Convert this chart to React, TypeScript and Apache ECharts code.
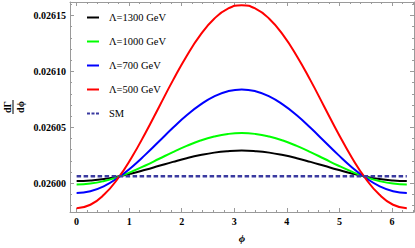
import React, { useEffect, useRef } from "react";
import * as echarts from "echarts";

const phi = [
  0, 0.2618, 0.5236, 0.7854, 1.0472, 1.309, 1.5708, 1.8326, 2.0944, 2.3562, 2.618, 2.8798, 3.1416,
  3.4034, 3.6652, 3.927, 4.1888, 4.4506, 4.7124, 4.9742, 5.236, 5.4978, 5.7596, 6.0214, 6.2832,
];

const lambda1300 = [
  0.026002, 0.0260025, 0.0260038, 0.026006, 0.0260088, 0.0260121, 0.0260156, 0.0260191, 0.0260224,
  0.0260252, 0.0260274, 0.0260287, 0.0260292, 0.0260287, 0.0260274, 0.0260252, 0.0260224, 0.0260191,
  0.0260156, 0.0260121, 0.0260088, 0.026006, 0.0260038, 0.0260025, 0.026002,
];

const lambda1000 = [
  0.0259989, 0.0259997, 0.026002, 0.0260056, 0.0260104, 0.0260159, 0.0260219, 0.0260279, 0.0260334,
  0.0260382, 0.0260418, 0.0260441, 0.0260449, 0.0260441, 0.0260418, 0.0260382, 0.0260334, 0.0260279,
  0.0260219, 0.0260159, 0.0260104, 0.0260056, 0.026002, 0.0259997, 0.0259989,
];

const lambda700 = [
  0.0259913, 0.0259929, 0.0259975, 0.0260049, 0.0260144, 0.0260256, 0.0260376, 0.0260496, 0.0260608,
  0.0260703, 0.0260777, 0.0260823, 0.0260839, 0.0260823, 0.0260777, 0.0260703, 0.0260608, 0.0260496,
  0.0260376, 0.0260256, 0.0260144, 0.0260049, 0.0259975, 0.0259929, 0.0259913,
];

const lambda500 = [
  0.0259777, 0.0259808, 0.0259899, 0.0260043, 0.0260231, 0.026045, 0.0260685, 0.026092, 0.0261139,
  0.0261327, 0.0261471, 0.0261562, 0.0261593, 0.0261562, 0.0261471, 0.0261327, 0.0261139, 0.026092,
  0.0260685, 0.026045, 0.0260231, 0.0260043, 0.0259899, 0.0259808, 0.0259777,
];

const smPhi = [0, 6.2832];
const smValues = [0.0260063, 0.0260063];

const seriesNames = ["Λ=1300 GeV", "Λ=1000 GeV", "Λ=700 GeV", "Λ=500 GeV", "SM"];
const seriesColors = ["#000000", "#00ff00", "#0000ff", "#ff0000", "#3a3aa0"];

const xTickLabels = ["0", "1", "2", "3", "4", "5", "6"];
const yTickLabels = ["0.02600", "0.02605", "0.02610", "0.02615"];

const FRAME = "#9a9a9a";
const SERIF = "'Liberation Serif', 'DejaVu Serif', serif";

function zip(xs: number[], ys: number[]) {
  return xs.map((x, i) => [x, ys[i]]);
}

export default function App() {
  const ref = useRef<HTMLDivElement>(null);

  useEffect(() => {
    if (!ref.current) return;
    const chart = echarts.init(ref.current, undefined, { renderer: "svg" });

    const xAxisBase = (pos: "bottom" | "top", labels: boolean) => ({
      type: "value" as const,
      position: pos,
      min: -0.126,
      max: 6.42,
      minInterval: 1,
      maxInterval: 1,
      splitNumber: 7,
      axisLine: { show: true, onZero: false, lineStyle: { color: FRAME, width: 1 } },
      axisTick: { show: true, inside: true, length: 4, lineStyle: { color: FRAME, width: 1 } },
      minorTick: { show: true, splitNumber: 5, length: 2, lineStyle: { color: FRAME, width: 1 } },
      splitLine: { show: false },
      axisLabel: {
        show: labels,
        showMinLabel: false,
        showMaxLabel: false,
        margin: 4,
        color: "#000",
        fontFamily: SERIF,
        fontWeight: "bold" as const,
        fontSize: 10,
        formatter: (v: number) => {
          const r = Math.round(v);
          return Math.abs(v - r) < 1e-6 && xTickLabels.includes(String(r)) ? String(r) : "";
        },
      },
    });

    const yAxisBase = (pos: "left" | "right", labels: boolean) => ({
      type: "value" as const,
      position: pos,
      min: 0.0259743,
      max: 0.0261621,
      minInterval: 0.00005,
      maxInterval: 0.00005,
      splitNumber: 4,
      scale: true,
      axisLine: { show: true, onZero: false, lineStyle: { color: FRAME, width: 1 } },
      axisTick: { show: true, inside: true, length: 4, lineStyle: { color: FRAME, width: 1 } },
      minorTick: { show: true, splitNumber: 5, length: 2, lineStyle: { color: FRAME, width: 1 } },
      splitLine: { show: false },
      axisLabel: {
        show: labels,
        showMinLabel: false,
        showMaxLabel: false,
        margin: 4,
        color: "#000",
        fontFamily: SERIF,
        fontWeight: "bold" as const,
        fontSize: 10,
        formatter: (v: number) => {
          const s = v.toFixed(5);
          return yTickLabels.includes(s) && Math.abs(v - Number(s)) < 1e-9 ? s : "";
        },
      },
    });

    const curves = [lambda1300, lambda1000, lambda700, lambda500];

    const series: any[] = curves.map((vals, i) => ({
      name: seriesNames[i],
      type: "line",
      data: zip(phi, vals),
      smooth: true,
      showSymbol: false,
      symbol: "none",
      xAxisIndex: 0,
      yAxisIndex: 0,
      lineStyle: { color: seriesColors[i], width: 2 },
      itemStyle: { color: seriesColors[i] },
    }));
    series.push({
      name: seriesNames[4],
      type: "line",
      data: zip(smPhi, smValues),
      showSymbol: false,
      symbol: "none",
      xAxisIndex: 0,
      yAxisIndex: 0,
      lineStyle: { color: seriesColors[4], width: 2.6, type: [4.5, 2.5] },
      itemStyle: { color: seriesColors[4] },
    });

    const solidIcon = "path://M0,0h12v2h-12z";
    const dashedIcon = "path://M0,0h3v2h-3z M4.5,0h3v2h-3z M9,0h3v2h-3z";

    chart.setOption({
      animation: false,
      backgroundColor: "#ffffff",
      grid: { left: 70, right: 1, top: 2, bottom: 34, containLabel: false },
      xAxis: [
        {
          ...xAxisBase("bottom", true),
          name: "ϕ",
          nameLocation: "middle",
          nameGap: 20,
          nameTextStyle: {
            color: "#000",
            fontFamily: SERIF,
            fontStyle: "italic",
            fontWeight: "bold",
            fontSize: 11,
          },
        },
        xAxisBase("top", false),
      ],
      yAxis: [yAxisBase("left", true), yAxisBase("right", false)],
      legend: {
        orient: "vertical",
        left: 82,
        top: 7,
        itemWidth: 12,
        itemHeight: 2,
        itemGap: 13,
        data: seriesNames.map((n, i) => ({
          name: n,
          icon: i === 4 ? dashedIcon : solidIcon,
          itemStyle: { color: seriesColors[i], borderWidth: 0 },
        })),
        textStyle: {
          color: "#000",
          fontFamily: SERIF,
          fontSize: 10.5,
          padding: [0, 0, 0, 5],
        },
      },
      graphic: [
        {
          type: "group",
          x: 13,
          y: 107,
          rotation: Math.PI / 2,
          children: [
            {
              type: "text",
              x: 0,
              y: -6,
              style: {
                text: "dΓ",
                fill: "#000",
                font: "bold 10px " + SERIF,
                align: "center",
                verticalAlign: "middle",
              },
            },
            {
              type: "line",
              shape: { x1: -7, y1: 0, x2: 7, y2: 0 },
              style: { stroke: "#000", lineWidth: 1 },
            },
            {
              type: "text",
              x: 0,
              y: 7,
              style: {
                text: "dϕ",
                fill: "#000",
                font: "bold 10px " + SERIF,
                align: "center",
                verticalAlign: "middle",
              },
            },
          ],
        },
      ],
      series,
    });

    return () => chart.dispose();
  }, []);

  return (
    <div
      ref={ref}
      style={{ position: "fixed", left: 0, top: 0, width: 415, height: 248, background: "#fff" }}
    />
  );
}
